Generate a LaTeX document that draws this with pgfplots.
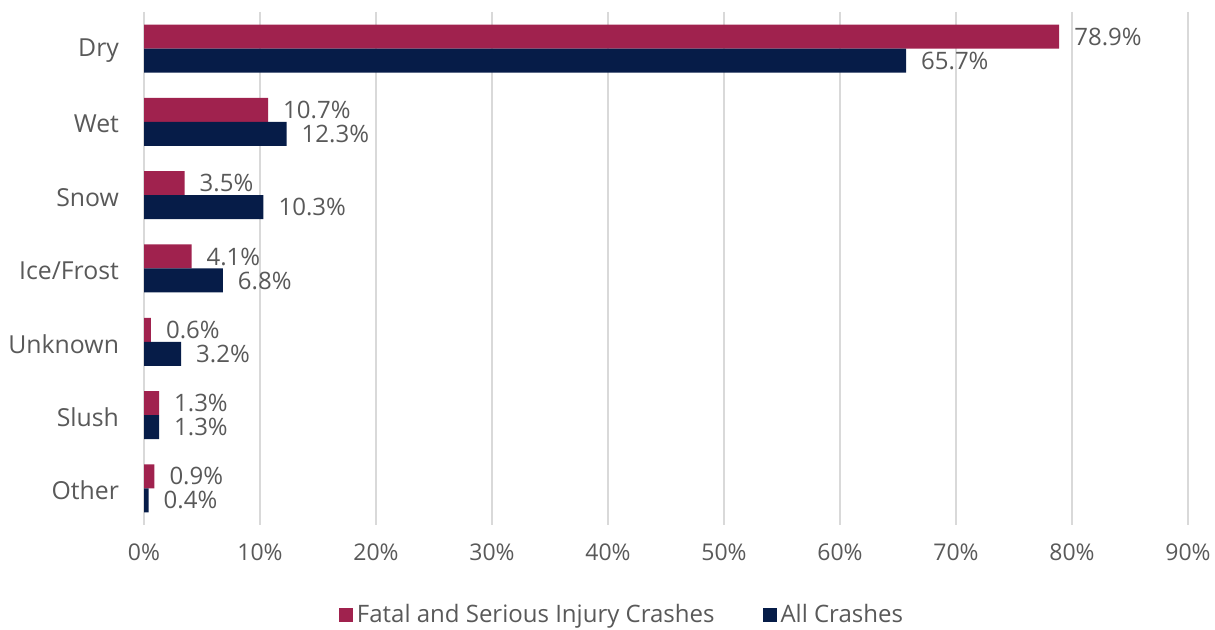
\documentclass[border=0pt]{standalone}
\usepackage{fontspec}
\setmainfont{Open Sans}
\usepackage{pgfplots}
\pgfplotsset{compat=1.18}
\definecolor{maroon}{HTML}{A0224E}
\definecolor{navy}{HTML}{061C48}
\definecolor{txt}{HTML}{595959}
\definecolor{gridc}{HTML}{D9D9D9}
\newcommand{\fs}{\fontsize{11.5pt}{13pt}\selectfont}
\newcommand{\fl}{\fontsize{12pt}{14pt}\selectfont}
\begin{document}
\begin{tikzpicture}
\begin{axis}[
  at={(72pt,52.5pt)}, anchor=south west,
  scale only axis, width=522pt, height=256.5pt,
  xbar, bar width=12pt,
  xmin=0, xmax=90, ymin=-0.5, ymax=6.5, y dir=reverse,
  ytick={0,...,6}, yticklabels={Dry,Wet,Snow,Ice/Frost,Unknown,Slush,Other},
  xtick={0,10,...,90}, xticklabel={\pgfmathprintnumber{\tick}\%},
  /pgf/number format/assume math mode=true,
  axis line style={draw=none}, major tick length=0pt,
  xmajorgrids, grid style={gridc, line width=1pt},
  ticklabel style={font=\fs, text=txt},
  xticklabel style={yshift=-6pt},
  yticklabel style={xshift=-9pt, yshift=-1pt, font=\fontsize{12.4pt}{14pt}\selectfont},
  nodes near coords={\pgfmathprintnumber[fixed,precision=1,fixed zerofill]{\pgfplotspointmeta}\%},
  nodes near coords style={font=\fl, text=txt, anchor=west, xshift=4pt},
  legend style={at={(0.4588,-0.176)}, anchor=center, draw=none, fill=none,
    legend columns=2, font=\fl, text=txt,
    /tikz/every even column/.append style={column sep=22pt}},
  legend image code/.code={\fill[#1] (0pt,-3.5pt) rectangle (7pt,3.5pt);},
]
\addplot[fill=maroon, draw=none, bar shift=6pt] coordinates {
  (78.9,0) (10.7,1) (3.5,2) (4.1,3) (0.6,4) (1.3,5) (0.9,6)};
\addplot[fill=navy, draw=none, bar shift=-6pt] coordinates {
  (65.7,0) (12.3,1) (10.3,2) (6.8,3) (3.2,4) (1.3,5) (0.4,6)};
\legend{Fatal and Serious Injury Crashes, All Crashes}
\end{axis}
\pgfresetboundingbox
\path[use as bounding box] (0,0) rectangle (607.5pt,315pt);
\end{tikzpicture}
\end{document}
